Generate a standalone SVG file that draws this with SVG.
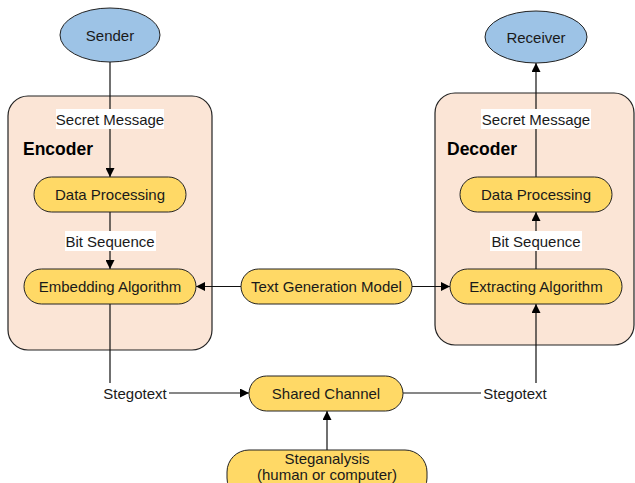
<svg xmlns="http://www.w3.org/2000/svg" width="635" height="483" viewBox="0 0 635 483">
  <defs>
    <marker id="arrow" viewBox="0 0 10 10" refX="10" refY="5" markerWidth="9" markerHeight="9" markerUnits="userSpaceOnUse" orient="auto">
      <path d="M0,0 L10,5 L0,10 Z" fill="#000"/>
    </marker>
    <style>
      text { font-family: "Liberation Sans", Arial, sans-serif; font-size: 15px; fill: #1a1a1a; text-anchor: middle; dominant-baseline: central; }
      .title { font-size: 17.5px; font-weight: bold; text-anchor: start; dominant-baseline: alphabetic; fill: #000; }
      .actor { fill: #9DC3E6; stroke: #222; stroke-width: 1; }
      .panel { fill: #FBE5D6; stroke: #222; stroke-width: 1.2; }
      .step { fill: #FFD966; stroke: #222; stroke-width: 1; }
      .wire { fill: none; stroke: #111; stroke-width: 1.2; }
      .tag { fill: #fff; }
    </style>
  </defs>

  <rect width="635" height="483" fill="#fff"/>

  <!-- encoder / decoder panels -->
  <g id="encoder">
    <rect class="panel" x="8" y="96" width="204" height="254" rx="20"/>
    <text class="title" x="23" y="155">Encoder</text>
  </g>
  <g id="decoder">
    <rect class="panel" x="435" y="93" width="199" height="252" rx="20"/>
    <text class="title" x="447" y="155">Decoder</text>
  </g>

  <!-- connectors -->
  <g id="connectors">
    <path class="wire" d="M110,62 V177" marker-end="url(#arrow)"/>
    <path class="wire" d="M110,212 V269" marker-end="url(#arrow)"/>
    <path class="wire" d="M110,304 V393 H249" marker-end="url(#arrow)"/>
    <path class="wire" d="M403,393 H536 V304" marker-end="url(#arrow)"/>
    <path class="wire" d="M327,450 V411" marker-end="url(#arrow)"/>
    <path class="wire" d="M241,286.5 H196" marker-end="url(#arrow)"/>
    <path class="wire" d="M412,286.5 H450" marker-end="url(#arrow)"/>
    <path class="wire" d="M536,269 V212" marker-end="url(#arrow)"/>
    <path class="wire" d="M536,177 V63" marker-end="url(#arrow)"/>

    <!-- connector labels -->
    <rect class="tag" x="56" y="109" width="108" height="20"/>
    <text x="110" y="119">Secret Message</text>
    <rect class="tag" x="65" y="231" width="91" height="20"/>
    <text x="110" y="241">Bit Sequence</text>
    <rect class="tag" x="101" y="383" width="68" height="20"/>
    <text x="135" y="393">Stegotext</text>
    <rect class="tag" x="481" y="109" width="110" height="20"/>
    <text x="536" y="119">Secret Message</text>
    <rect class="tag" x="490" y="231" width="92" height="20"/>
    <text x="536" y="241">Bit Sequence</text>
    <rect class="tag" x="481" y="383" width="68" height="20"/>
    <text x="515" y="393">Stegotext</text>
  </g>

  <!-- actors -->
  <g id="sender">
    <ellipse class="actor" cx="110" cy="35" rx="50" ry="27"/>
    <text x="110" y="35">Sender</text>
  </g>
  <g id="receiver">
    <ellipse class="actor" cx="536" cy="37" rx="51" ry="26"/>
    <text x="536" y="37">Receiver</text>
  </g>

  <!-- processing steps -->
  <g id="enc-data-processing">
    <rect class="step" x="34" y="177" width="152" height="35" rx="17.5"/>
    <text x="110" y="194.5">Data Processing</text>
  </g>
  <g id="embedding-algorithm">
    <rect class="step" x="24" y="269" width="172" height="35" rx="17.5"/>
    <text x="110" y="286.5">Embedding Algorithm</text>
  </g>
  <g id="text-generation-model">
    <rect class="step" x="241" y="269" width="171" height="35" rx="17.5"/>
    <text x="326.5" y="286.5">Text Generation Model</text>
  </g>
  <g id="dec-data-processing">
    <rect class="step" x="460" y="177" width="152" height="35" rx="17.5"/>
    <text x="536" y="194.5">Data Processing</text>
  </g>
  <g id="extracting-algorithm">
    <rect class="step" x="450" y="269" width="172" height="35" rx="17.5"/>
    <text x="536" y="286.5">Extracting Algorithm</text>
  </g>
  <g id="shared-channel">
    <rect class="step" x="249" y="376" width="154" height="35" rx="17.5"/>
    <text x="326" y="393.5">Shared Channel</text>
  </g>
  <g id="steganalysis">
    <rect class="step" x="227" y="450" width="200" height="50" rx="22"/>
    <text x="327" y="458">Steganalysis</text>
    <text x="327" y="474">(human or computer)</text>
  </g>
</svg>
